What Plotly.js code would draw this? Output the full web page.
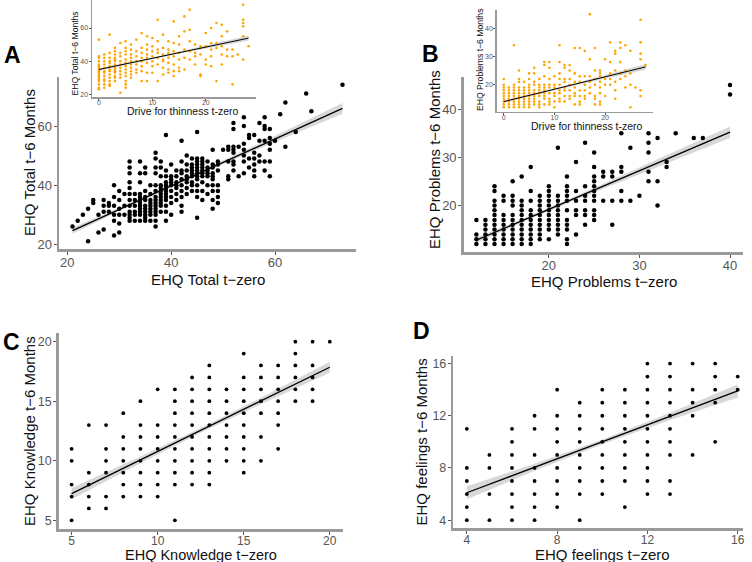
<!DOCTYPE html>
<html>
<head>
<meta charset="utf-8">
<script src="https://cdn.plot.ly/plotly-3.0.1.min.js"></script>
<style>html,body{margin:0;padding:0;background:#fff;}#chart{width:752px;height:562px;}</style>
</head>
<body>
<div id="chart"></div>
<script>
// ---------- Panel A main: EHQ Total (x columns, y values per column) ----------
const aX = [21,22,23,24,25,26,27,28,29,30,31,32,33,34,35,36,37,38,39,40,41,42,43,44,45,46,47,48,49,50,51,52,53,54,55,56,57,58,59,60,61,62,64,66,67,73];
const aY = [[26],[28],[30],[32,21],[35,34],[30,24],[35,33,31,25],[34,33,31],[40,36,33,30,28,23],[38,35,32,30,27,24],[37,33,30],
  [48,46,44,41,39,37,35,33,31,30,29,28],[37,35,33,31,30,28],[48,44,41,37,36,35,34,33,32,31,30,28],[46,44,38,36,35,33,32,31,30,29,28],
  [40,37,35,34,33,32,31,30,28],[51,49,46,44,40,38,36,35,34,33,32,31,30,28,26],[48,46,43,40,39,38,37,36,35,34,33,31],
  [57,45,43,41,40,39,38,37,36,35,33,31,28],[47,43,42,41,40,38,36,34,30],[45,43,41,40,39,37,35],[55,48,45,44,42,40,38,36,33,31],
  [50,47,45,43,42,41,39,37],[49,47,46,45,44,43,41,40,38],[58,49,48,47,46,45,44,43,42,40,38,36,29],[49,48,47,46,45,44,43,41,38,35],
  [48,46,45,44,43,40,37],[52,47,46,44,43,42,40,38,35,32],[48,47,45,40,38,36,34],[52],[53,52,48,43,42],[61,59,53,52,51,48,47,45],
  [53,43],[63,60,54,52,50,48,44],[57,56,49,46],[57,51,49,47,45,43],[61,55,50,48],[63,60,59,55,48,45],[59,56,54,52,48,43],
  [55],[64],[68,53],[58],[71],[65],[74]];
const aFitX = [21,73], aFitY = [24.6,66.0];
const aBandX = [21,30,40,55,73], aBandLo = [23.6,31.25,39.3,50.95,64.2], aBandHi = [25.6,32.35,40.1,52.45,67.8];
const aTicks = [20,40,60];

// ---------- Panel A inset: Drive for thinness vs EHQ Total ----------
const aiX = [0,1,2,3,4,5,6,7,8,9,10,11,12,13,14,15,16,17,18,19,20,21,22,23,24,25,26,27,28];
const aiY = [[53,43,42,40,38,37,36,35,34,33,32,31,30,29,28,26,24,23],[44,42,40,38,36,34,33,31,29,28,26,24],
  [56,45,42,40,39,37,35,34,32,30,28,26,25],[48,46,44,42,41,40,38,36,35,34,33,31,30,28],[51,45,43,40,38,36,34,32,30,21],
  [52,48,46,44,41,39,37,35,33,31,28,26,24],[50,47,44,42,40,38,36,34,32,30],[53,46,43,40,38,35,33],[57,48,45,42,40,37,34,28],
  [55,50,47,44,42,39,33,28],[54,49,46,43,40,37,33],[65,52,47,45,42,38,28],[56,48,44,41,40,36,32],[52,47,45,42,39,35,33],
  [64,51,46,43,38,34,31],[55,50,45,41,36,34],[67,58,47,42,35],[71,59,52,46,41],[50,45,43,38],[49,48,44,32,31],[57,49,41,38],
  [60,51,47,43,37],[63,51,48,28],[62,55,49,44,38],[58,47,43],[47,43,26],[44],[74,65,63,61,55,41],[49]];
const aiFitX = [0,28], aiFitY = [35.0,53.9];
const aiBandX = [0,7,14,21,28], aiBandLo = [34.2,39.15,43.85,48.2,52.3], aiBandHi = [35.8,40.25,45.05,50.2,55.5];
const aiXTicks = [0,10,20], aiYTicks = [20,40,60];

// ---------- Panel B main: EHQ Problems ----------
const bX = [12,13,14,15,16,17,18,19,20,21,22,23,24,25,26,27,28,29,30,31,32,33,34,36,37,40];
const bY = [[17,14,13,12],[17,16,15,14,13,12],[24,23,21,20,19,18,17,16,15,14,13,12],[22,21,18,17,16,15,14,13,12],
  [25,22,21,20,18,17,16,15,14,13,12],[26,21,20,19,18,17,16,15,14,13,12],[28,23,21,19,18,17,16,15,14,13,12],
  [22,21,20,19,18,17,16,15,14,13],[24,23,22,21,20,19,18,17,16,15,13],[32,22,21,20,19,18,17,16,15,14],
  [26,24,23,22,21,19,17,16,15,13,12],[29,23,21,19,18,14],[33,24,22,21,19,18,16],[31,28,26,25,24,23,22,21,19,18,17],
  [27,26,21],[27,26,21,16],[35,28,27,23,21],[32,21],[22],[35,33,31,27,25],[34,25,20],[29,28],[35],[34],[34],[45,43]];
const bFitX = [12,40], bFitY = [12.8,35.2];
const bBandX = [12,18,24,32,40], bBandLo = [12.25,17.3,21.98,28.0,34.0], bBandHi = [13.35,17.9,22.82,29.6,36.4];
const bXTicks = [20,30,40], bYTicks = [20,30,40];

// ---------- Panel B inset: Drive for thinness vs EHQ Problems ----------
const biX = [0,1,2,3,4,5,6,7,8,9,10,11,12,13,14,15,16,17,18,19,20,21,22,23,24,25,26,27,28];
const biY = [[22,20,19,18,17,16,15,14,13,12],[19,18,17,16,15,14,13,12],[34,20,19,18,17,16,15,14,13,12],
  [25,22,21,19,18,17,16,15,14,13,12],[21,19,18,17,16,15,14,13,12],[24,22,20,19,18,17,16,15,14,13,12],
  [26,24,21,20,18,17,16,15,14,13],[22,20,19,18,17,16,14,13,12],[28,27,23,20,19,18,17,16,15,13],[28,26,22,20,19,17,15,14,13],
  [23,20,19,17,16,14,12],[34,28,24,22,20,18,17,15,14],[27,26,22,21,19,18,16,14],[27,25,22,20,18,16,15],[33,24,21,19,17,16,13],
  [33,23,21,18,16,14,13],[32,23,20,18,16,15],[45,29,23,21,19,17],[33,25,22,20,16,15,13],[25,24,23,21,19,17,14,13],
  [29,22,20,16],[35,28,24,22,20],[32,31,25,21,18,15],[35,33,28,24,22],[34,25,23,19],[32,24,20,12],[19],[43,35,31,29,18,16],[27]];
const biFitX = [0,28], biFitY = [14.0,26.3];
const biBandX = [0,7,14,21,28], biBandLo = [13.55,16.78,19.75,22.55,25.3], biBandHi = [14.45,17.38,20.55,23.9,27.3];
const biXTicks = [0,10,20], biYTicks = [20,30,40];

// ---------- Panel C: EHQ Knowledge ----------
const cX = [5,6,7,8,9,10,11,12,13,14,15,16,17,18,19,20];
const cY = [[11,10,8,7,5],[13,9,8,7,6],[13,11,10,9,7,6],[14,12,11,10,9,8,7],[15,13,12,11,10,9,8,7],[16,13,12,11,10,9,8,7],
  [16,15,14,13,12,11,10,9,8,5],[17,16,15,14,13,12,11,10,9,8],[18,17,16,15,14,13,12,11,10,9,8],[16,15,14,13,12,11,10],
  [19,17,16,15,14,13,12,11,10,9],[18,17,16,15,14,12,10],[18,17,16,15,14,13,11],[20,19,18,17,16,15],[20,18,17,16,15],[20]];
const cFitX = [5,20], cFitY = [7.25,17.85];
const cBandX = [5,9,12.5,16,20], cBandLo = [6.78,9.8,12.35,14.75,17.38], cBandHi = [7.72,10.36,12.75,15.29,18.32];
const cTicks = [5,10,15,20];

// ---------- Panel D: EHQ feelings ----------
const dX = [4,5,6,7,8,9,10,11,12,13,14,15,16];
const dY = [[11,8,7,6,5,4],[9,8,6,4],[11,10,9,8,7,6,5,4],[12,11,9,8,7,6,5,4],[14,12,11,10,9,8,7,6,5],[13,12,11,10,9,8,7,6,4],
  [14,13,12,11,10,9,8,7,6],[14,13,12,11,10,9,8,7,5],[16,15,14,13,12,11,10,9,8,7,6],[16,15,14,13,12,11,10,9,7,6],
  [16,14,13,12,9],[16,15,14,13,10],[15,14]];
const dFitX = [4,16], dFitY = [6.1,13.9];
const dBandX = [4,7,10,13,16], dBandLo = [5.6,7.78,9.82,11.68,13.4], dBandHi = [6.6,8.32,10.18,12.22,14.4];
const dTicks = [4,8,12,16];

// ---------- helpers ----------
function flat(xs, ys) {
  const X = [], Y = [];
  xs.forEach((x, i) => ys[i].forEach(y => { X.push(x); Y.push(y); }));
  return {x: X, y: Y};
}
function panelTraces(xs, ys, fx, fy, bx, lo, hi, xa, ya, color, size, lw) {
  const p = flat(xs, ys);
  return [
    {type: 'scatter', mode: 'lines', x: bx.concat(bx.slice().reverse()), y: lo.concat(hi.slice().reverse()),
     xaxis: xa, yaxis: ya, fill: 'toself', fillcolor: 'rgba(153,153,153,0.38)', line: {width: 0},
     hoverinfo: 'skip', showlegend: false},
    {type: 'scatter', mode: 'markers', x: p.x, y: p.y, xaxis: xa, yaxis: ya,
     marker: {color: color, size: size}, hoverinfo: 'skip', showlegend: false},
    {type: 'scatter', mode: 'lines', x: fx, y: fy, xaxis: xa, yaxis: ya,
     line: {color: '#000', width: lw}, hoverinfo: 'skip', showlegend: false}
  ];
}

const W = 752, H = 562;
const px = (a, b) => [a / W, b / W];
const py = (top, bot) => [1 - bot / H, 1 - top / H];
const FONT = 'Liberation Sans, Arial, sans-serif';

function axis(dom, range, ticks, opts) {
  const o = Object.assign({tickSize: 13, lw: 2.5, tlen: 3, tls: 0}, opts || {});
  return {
    domain: dom, range: range, tickmode: 'array', tickvals: ticks, ticktext: ticks.map(String),
    showgrid: false, zeroline: false, showline: true, linecolor: '#9a9a9a', linewidth: o.lw,
    ticks: 'outside', ticklen: o.tlen, tickwidth: 1, tickcolor: '#555', ticklabelstandoff: o.tls,
    tickfont: {family: FONT, size: o.tickSize, color: '#555'},
    automargin: false, fixedrange: true
  };
}

const traces = []
  .concat(panelTraces(aX, aY, aFitX, aFitY, aBandX, aBandLo, aBandHi, 'x', 'y', '#000', 4.5, 1.3))
  .concat(panelTraces(aiX, aiY, aiFitX, aiFitY, aiBandX, aiBandLo, aiBandHi, 'x2', 'y2', '#FFA500', 2.6, 1))
  .concat(panelTraces(bX, bY, bFitX, bFitY, bBandX, bBandLo, bBandHi, 'x3', 'y3', '#000', 4.5, 1.3))
  .concat(panelTraces(biX, biY, biFitX, biFitY, biBandX, biBandLo, biBandHi, 'x4', 'y4', '#FFA500', 2.6, 1))
  .concat(panelTraces(cX, cY, cFitX, cFitY, cBandX, cBandLo, cBandHi, 'x5', 'y5', '#000', 3.8, 1.3))
  .concat(panelTraces(dX, dY, dFitX, dFitY, dBandX, dBandLo, dBandHi, 'x6', 'y6', '#000', 3.8, 1.3));

const insetX = {tickSize: 7, lw: 1.5, tlen: 2, tls: -4};
const insetY = {tickSize: 7, lw: 1.5, tlen: 2, tls: -1};

// axis titles and panel letters as text placed in page pixels
const titles = [
  ['EHQ Total t\u2212zero', 208, 279, 0, 15],
  ['EHQ Total t\u22126 Months', 29, 163, -90, 15],
  ['Drive for thinness t-zero', 183, 111, 0, 10.5],
  ['EHQ Total t\u22126 Months', 74.5, 54, -90, 8.6],
  ['EHQ Problems t\u2212zero', 603.5, 281, 0, 15],
  ['EHQ Problems t\u22126 Months', 435, 160, -90, 15],
  ['Drive for thinness t-zero', 586.5, 126, 0, 10.5],
  ['EHQ Problems t\u22126 Months', 480, 60, -90, 8.6],
  ['EHQ Knowledge t\u2212zero', 200.5, 554.5, 0, 14.5],
  ['EHQ Knowledge t\u22126 Months', 29, 431, -90, 15],
  ['EHQ feelings t\u2212zero', 602.5, 554.5, 0, 15],
  ['EHQ feelings t\u22126 Months', 421, 442.5, -90, 15]
].map(t => ({text: t[0], x: t[1] / W, y: 1 - t[2] / H, textangle: t[3], xref: 'paper', yref: 'paper',
  xanchor: 'center', yanchor: 'middle', showarrow: false, font: {family: FONT, size: t[4], color: '#111'}}));

const letters = [
  ['A', 2, 55], ['B', 420, 53.5], ['C', 1, 341.5], ['D', 411, 331]
].map(l => ({text: '<b>' + l[0] + '</b>', x: l[1] / W, y: 1 - l[2] / H, xref: 'paper', yref: 'paper',
  xanchor: 'left', yanchor: 'middle', showarrow: false, font: {family: FONT, size: 23, color: '#000'}}));

const layout = {
  width: W, height: H, margin: {l: 0, r: 0, t: 0, b: 0},
  paper_bgcolor: '#fff', plot_bgcolor: 'rgba(0,0,0,0)', showlegend: false,
  font: {family: FONT},
  xaxis: Object.assign(axis(px(59, 356), [18.4, 75.6], aTicks, {tls: -3}), {anchor: 'y'}),
  yaxis: Object.assign(axis(py(77, 249), [18.4, 76.6], aTicks, {tls: -1}), {anchor: 'x'}),
  xaxis2: Object.assign(axis(px(92, 256), [-1.3, 29.4], aiXTicks, insetX), {anchor: 'y2'}),
  yaxis2: Object.assign(axis(py(0, 97), [18.4, 76.9], aiYTicks, insetY), {anchor: 'x2'}),
  xaxis3: Object.assign(axis(px(463.7, 742.7), [10.6, 41.4], bXTicks, {tls: -3}), {anchor: 'y3'}),
  yaxis3: Object.assign(axis(py(77, 252), [10.35, 46.65], bYTicks, {tls: -1}), {anchor: 'x3'}),
  xaxis4: Object.assign(axis(px(496.7, 652.7), [-1.4, 29.4], biXTicks, insetX), {anchor: 'y4'}),
  yaxis4: Object.assign(axis(py(9.5, 111.9), [10.35, 46.65], biYTicks, insetY), {anchor: 'x4'}),
  xaxis5: Object.assign(axis(px(58.7, 342.7), [4.25, 20.75], cTicks, {tickSize: 12, tls: -4}), {anchor: 'y5'}),
  yaxis5: Object.assign(axis(py(332.7, 529.3), [4.25, 20.75], cTicks, {tickSize: 12.5, tls: -1}), {anchor: 'x5'}),
  xaxis6: Object.assign(axis(px(453.3, 742.7), [3.4, 16.22], dTicks, {tickSize: 12, tls: -4}), {anchor: 'y6'}),
  yaxis6: Object.assign(axis(py(355.7, 528), [3.4, 16.6], dTicks, {tickSize: 12.5, tls: -1}), {anchor: 'x6'}),
  annotations: titles.concat(letters)
};

Plotly.newPlot('chart', traces, layout, {staticPlot: true, displayModeBar: false});
</script>
</body>
</html>
